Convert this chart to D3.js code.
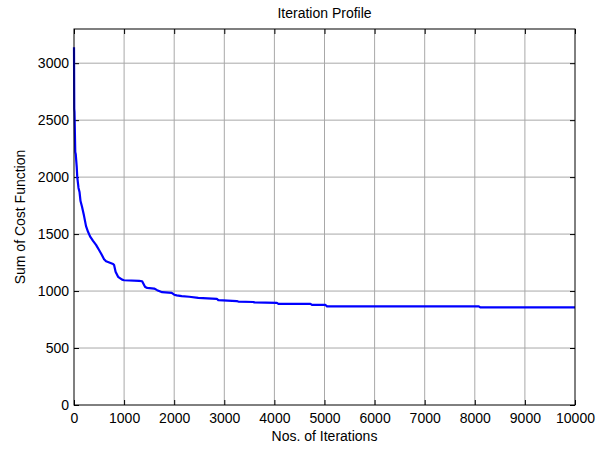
<!DOCTYPE html>
<html>
<head>
<meta charset="utf-8">
<script src="https://cdn.jsdelivr.net/npm/d3@7"></script>
<style>
body { margin: 0; background: #fff; }
text { font-family: "Liberation Sans", Arial, sans-serif; }
</style>
</head>
<body>
<script>
// iteration number and the cost at that iteration
var iterations = [0, 5, 10, 25, 35, 55, 65, 90, 110, 130, 160, 200, 240, 280, 320, 380, 440, 500, 540, 600, 640,
    780, 800, 830, 880, 960, 1000, 1300, 1360, 1420, 1460, 1600, 1660, 1760, 1950, 2000, 2050, 2150, 2300,
    2480, 2850, 2880, 3250, 3280, 3580, 3600, 4050, 4080, 4720, 4750, 5020, 5050, 8080, 8110, 10000];
var costs = [3140, 2600, 2570, 2220, 2200, 2085, 2000, 1905, 1870, 1790, 1740, 1660, 1570, 1520, 1480, 1440, 1405, 1360, 1330, 1280, 1262,
    1238, 1228, 1170, 1125, 1100, 1095, 1090, 1086, 1035, 1028, 1022, 1008, 990, 984, 968, 962, 955, 950,
    940, 932, 920, 912, 908, 904, 900, 896, 887, 887, 878, 878, 866, 866, 857, 857];
var xTicks = [0, 1000, 2000, 3000, 4000, 5000, 6000, 7000, 8000, 9000, 10000];
var yTicks = [0, 500, 1000, 1500, 2000, 2500, 3000];

var width = 598, height = 449;
var margin = {left: 74, right: 23, top: 29, bottom: 44};

var svg = d3.select("body")
    .append("svg")
    .attr("width", width)
    .attr("height", height);

var x = d3.scaleLinear().domain([0, 10000]).range([margin.left, width - margin.right]);
var y = d3.scaleLinear().domain([0, 3300]).range([height - margin.bottom, margin.top]);

// grid
svg.append("g").selectAll("line")
    .data(xTicks.slice(1, -1))
    .enter().append("line")
    .attr("x1", function(d) { return x(d); })
    .attr("x2", function(d) { return x(d); })
    .attr("y1", y(0))
    .attr("y2", y(3300))
    .attr("stroke", "#a8a8a8")
    .attr("stroke-width", 1);

svg.append("g").selectAll("line")
    .data(yTicks.slice(1))
    .enter().append("line")
    .attr("x1", x(0))
    .attr("x2", x(10000))
    .attr("y1", function(d) { return y(d); })
    .attr("y2", function(d) { return y(d); })
    .attr("stroke", "#a8a8a8")
    .attr("stroke-width", 1);

// axes, ticks pointing inwards on all four sides
var fmt = d3.format("d");
var bottomAxis = d3.axisBottom(x).tickValues(xTicks).tickSizeInner(-5).tickSizeOuter(0).tickPadding(8).tickFormat(fmt);
var topAxis = d3.axisTop(x).tickValues(xTicks).tickSizeInner(-5).tickSizeOuter(0).tickFormat("");
var leftAxis = d3.axisLeft(y).tickValues(yTicks).tickSizeInner(-5).tickSizeOuter(0).tickPadding(5).tickFormat(fmt);
var rightAxis = d3.axisRight(y).tickValues(yTicks).tickSizeInner(-5).tickSizeOuter(0).tickFormat("");

function styleAxis(g) {
    g.select(".domain").remove();
    g.selectAll(".tick line").attr("stroke", "#000");
    g.selectAll("text").attr("font-size", 14).attr("fill", "#000")
        .attr("font-family", "Liberation Sans, Arial, sans-serif");
}

svg.append("g").attr("transform", "translate(0," + y(0) + ")").call(bottomAxis).call(styleAxis);
svg.append("g").attr("transform", "translate(0," + y(3300) + ")").call(topAxis).call(styleAxis);
svg.append("g").attr("transform", "translate(" + x(0) + ",0)").call(leftAxis).call(styleAxis);
svg.append("g").attr("transform", "translate(" + x(10000) + ",0)").call(rightAxis).call(styleAxis);

// data line
var line = d3.line()
    .x(function(d, i) { return x(iterations[i]); })
    .y(function(d) { return y(d); });

svg.append("path")
    .datum(costs)
    .attr("d", line)
    .attr("fill", "none")
    .attr("stroke", "#0000ff")
    .attr("stroke-width", 2.2)
    .attr("stroke-linejoin", "round");

// box
svg.append("rect")
    .attr("x", x(0))
    .attr("y", y(3300))
    .attr("width", x(10000) - x(0))
    .attr("height", y(0) - y(3300))
    .attr("fill", "none")
    .attr("stroke", "#000")
    .attr("stroke-width", 1);

// labels
svg.append("text")
    .attr("x", (x(0) + x(10000)) / 2)
    .attr("y", 18)
    .attr("text-anchor", "middle")
    .attr("font-size", 14)
    .text("Iteration Profile");

svg.append("text")
    .attr("x", (x(0) + x(10000)) / 2)
    .attr("y", 441)
    .attr("text-anchor", "middle")
    .attr("font-size", 14)
    .text("Nos. of Iterations");

svg.append("text")
    .attr("transform", "translate(25," + (y(0) + y(3300)) / 2 + ") rotate(-90)")
    .attr("text-anchor", "middle")
    .attr("font-size", 14)
    .text("Sum of Cost Function");
</script>
</body>
</html>
